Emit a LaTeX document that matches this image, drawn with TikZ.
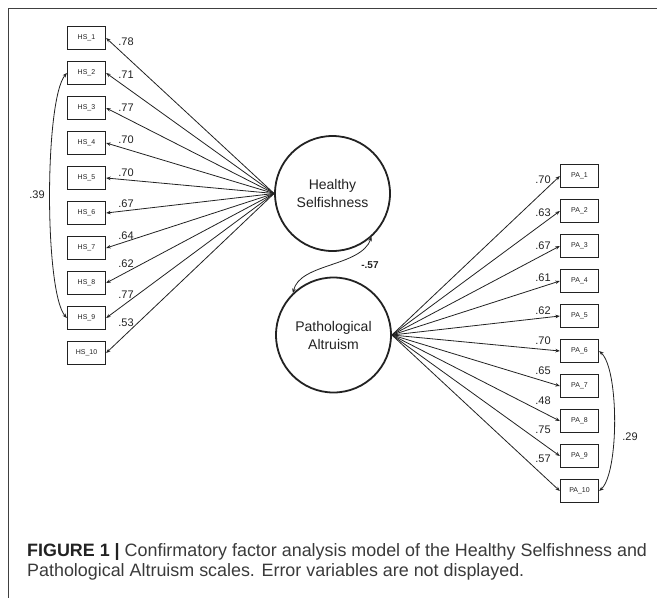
\documentclass[tikz,border=0pt]{standalone}
\usepackage{fontspec}
\setmainfont{Liberation Sans}
\usetikzlibrary{arrows.meta}
\definecolor{ink}{HTML}{222222}
\definecolor{capgray}{HTML}{3A3A3A}
\begin{document}
\begin{tikzpicture}[x=1pt,y=-1pt,
  obs/.style={draw=ink,line width=1.3pt,minimum width=38pt,minimum height=23pt,inner sep=0pt,font=\fontsize{7}{8}\selectfont,text=ink},
  lat/.style={draw=ink,circle,line width=1.8pt,minimum size=115pt,inner sep=0pt,align=center,font=\fontsize{14}{18}\selectfont,text=ink},
  coef/.style={inner sep=0pt,font=\fontsize{11}{12}\selectfont,text=ink},
  load/.style={draw=ink,line width=0.8pt,-{Stealth[length=4.5pt,width=3.5pt]}},
  cov/.style={draw=ink,line width=0.8pt,{Stealth[length=4.5pt,width=3.5pt]}-{Stealth[length=4.5pt,width=3.5pt]}},
  frameline/.style={draw=black!75,line width=1pt}]
\useasboundingbox (0,0) rectangle (657,598);
\draw[frameline] (8,598) -- (8,8) -- (657,8);

% latent variables
\node[lat] (hsl) at (332.5,193.5) {Healthy\\Selfishness};
\node[lat] (pal) at (333.5,335) {Pathological\\Altruism};

% HS indicators
\foreach \i/\c/\ly in {1/.78/42,2/.71/75,3/.77/108,4/.70/140,5/.70/173,6/.67/204,7/.64/236,8/.62/264,9/.77/295,10/.53/323}{
  \node[obs] (hs\i) at (86.5,{38+35*(\i-1)}) {HS\_\i};
  \draw[load] (hsl.west) -- (hs\i.east);
  \node[coef] (hc\i) at (126,\ly) {\c};
}

% PA indicators
\foreach \i/\c/\ly in {1/.70/180,2/.63/213,3/.67/246,4/.61/278,5/.62/311,6/.70/341,7/.65/371,8/.48/401,9/.75/430,10/.57/459}{
  \node[obs] (pa\i) at (579.5,{176+35*(\i-1)}) {PA\_\i};
  \draw[load] (pal.east) -- (pa\i.east-|pa\i.west);
  \node[coef] (pc\i) at (543,\ly) {\c};
}

% covariances
\draw[cov] (hsl.-48) .. controls +(-11,30) and +(7,-30) .. (pal.134.5);
\node[inner sep=0pt,font=\fontsize{10}{12}\selectfont\bfseries,text=ink] (r57) at (370,265) {-.57};

\draw[cov] (hs2.west) .. controls +(-22.5,27) and +(-22.5,-26) .. (hs9.west);
\node[coef] (r39) at (37,195) {.39};

\draw[cov] (pa6.east) .. controls +(20,18) and +(20,-18) .. (pa10.east);
\node[coef] (r29) at (630,437) {.29};

% caption
\node[anchor=base west,inner sep=0pt,font=\fontsize{17.9}{20}\selectfont,text=capgray] (cap1) at (27,556)
  {\textbf{\color{ink}FIGURE 1 |} Confirmatory factor analysis model of the Healthy Selfishness and};
\node[anchor=base west,inner sep=0pt,font=\fontsize{17.9}{20}\selectfont,text=capgray] (cap2) at (27,576)
  {Pathological Altruism scales. Error variables are not displayed.};
\end{tikzpicture}
\end{document}
